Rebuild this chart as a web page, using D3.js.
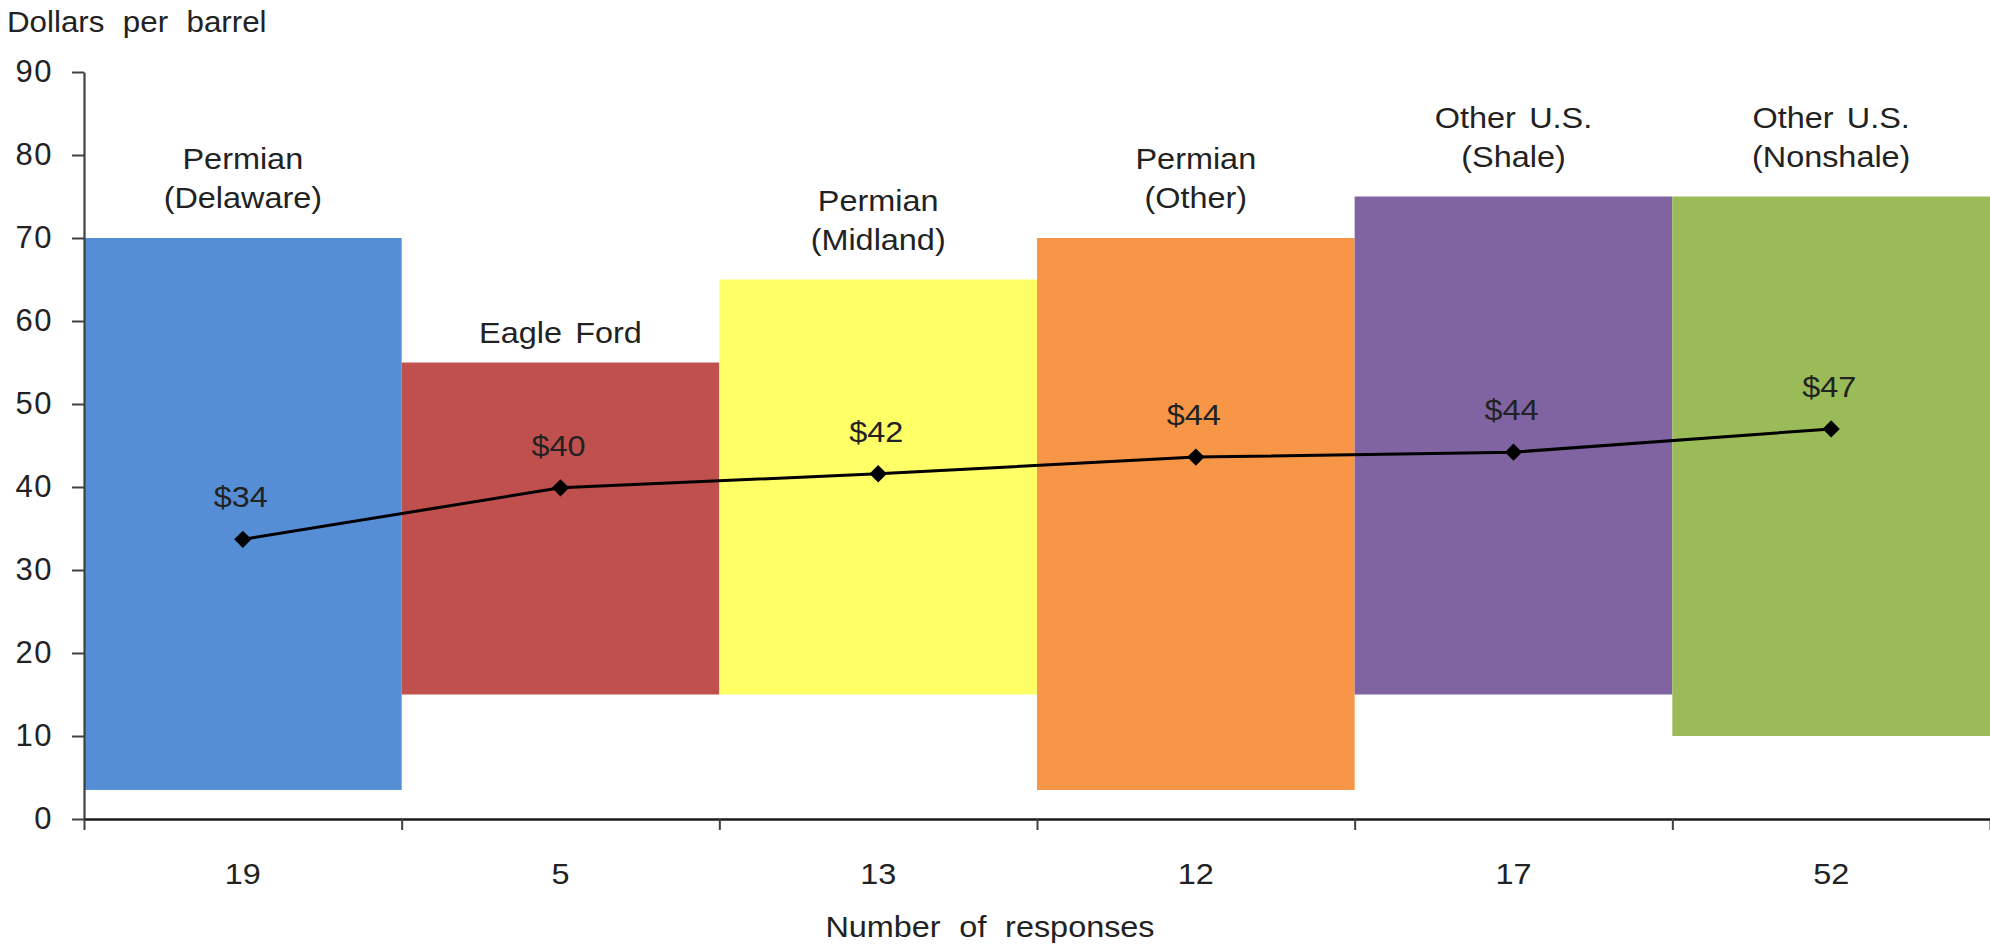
<!DOCTYPE html>
<html>
<head>
<meta charset="utf-8">
<script src="https://cdn.jsdelivr.net/npm/d3@7"></script>
<style>
  html, body { margin: 0; padding: 0; background: #fff; }
  svg { display: block; }
  text { font-family: "Liberation Sans", Arial, sans-serif; fill: #222; }
</style>
</head>
<body>
<svg id="chart" width="1990" height="947"></svg>
<script>
// ---- data ----
const categoryLines = [
  ["Permian", "(Delaware)"],
  ["Eagle Ford"],
  ["Permian", "(Midland)"],
  ["Permian", "(Other)"],
  ["Other U.S.", "(Shale)"],
  ["Other U.S.", "(Nonshale)"]
];
const responses = [19, 5, 13, 12, 17, 52];
const rangeLow  = [3.5, 15, 15, 3.5, 15, 10];
const rangeHigh = [70, 55, 65, 70, 75, 75];
const averages  = [33.7, 39.9, 41.6, 43.6, 44.2, 47.0];
const averageLabels = ["$34", "$40", "$42", "$44", "$44", "$47"];
const barColors = ["#558ED5", "#C0504D", "#FFFF66", "#F79646", "#8064A2", "#9BBB59"];
const yTicks = [0, 10, 20, 30, 40, 50, 60, 70, 80, 90];
const yTitle = "Dollars per barrel";
const xTitle = "Number of responses";

// ---- layout ----
const plotLeft = 84, plotRight = 1990, plotTop = 72, plotBottom = 819;
const SX = 1.08;
const svg = d3.select("#chart");

const idx = d3.range(categoryLines.length);
const x = d3.scaleBand().domain(idx).range([plotLeft, plotRight]).padding(0);
const y = d3.scaleLinear().domain([0, 90]).range([plotBottom, plotTop]);

function stretchedText(g, tx, ty, str, size, anchor) {
  return g.append("text")
    .attr("transform", `translate(${tx},${ty}) scale(${SX},1)`)
    .attr("text-anchor", anchor || "middle")
    .style("font-size", size + "px")
    .text(str);
}

// bars (floating range bars)
svg.append("g").selectAll("rect").data(idx).join("rect")
  .attr("x", i => x(i))
  .attr("width", x.bandwidth())
  .attr("y", i => y(rangeHigh[i]))
  .attr("height", i => y(rangeLow[i]) - y(rangeHigh[i]))
  .attr("fill", i => barColors[i]);

// category labels above bars
const catG = svg.append("g");
idx.forEach(i => {
  const lines = categoryLines[i];
  const cx = x(i) + x.bandwidth() / 2;
  const lastBase = y(rangeHigh[i]) - (lines.length > 1 ? 30 : 20);
  lines.forEach((ln, k) => {
    const by = lastBase - (lines.length - 1 - k) * 39;
    stretchedText(catG, cx, by, ln, 30, "middle").style("word-spacing", "4px");
  });
});

// y axis
const yAxis = d3.axisLeft(y).tickValues(yTicks).tickSize(12).tickSizeOuter(0).tickPadding(19);
const yg = svg.append("g").attr("transform", `translate(${plotLeft},0)`).call(yAxis);
yg.select(".domain").attr("stroke", "#404040").attr("stroke-width", 2.2);
yg.selectAll(".tick line").attr("stroke", "#404040").attr("stroke-width", 2);
yg.selectAll(".tick text")
  .style("font-size", "31px")
  .style("letter-spacing", "1.5px")
  .attr("fill", "#222")
  .attr("font-family", null);

// x axis: line + boundary ticks
const xb = d3.scaleLinear().domain([0, categoryLines.length]).range([plotLeft, plotRight]);
const xAxis = d3.axisBottom(xb).tickValues(d3.range(categoryLines.length + 1)).tickSize(11).tickSizeOuter(0).tickFormat("");
const xg = svg.append("g").attr("transform", `translate(0,${plotBottom})`).call(xAxis);
xg.select(".domain").attr("stroke", "#1a1a1a").attr("stroke-width", 2.4);
xg.selectAll(".tick line").attr("stroke", "#404040").attr("stroke-width", 2);

// x category value labels (number of responses)
const xl = svg.append("g");
idx.forEach(i => {
  stretchedText(xl, x(i) + x.bandwidth() / 2, 884, String(responses[i]), 30, "middle");
});

// average line
const line = d3.line().x(i => x(i) + x.bandwidth() / 2).y(i => y(averages[i]));
svg.append("path").datum(idx)
  .attr("d", line)
  .attr("fill", "none")
  .attr("stroke", "#000")
  .attr("stroke-width", 3);

svg.append("g").selectAll("path").data(idx).join("path")
  .attr("d", d3.symbol(d3.symbolSquare, 150)())
  .attr("transform", i => `translate(${x(i) + x.bandwidth() / 2},${y(averages[i])}) rotate(45)`)
  .attr("fill", "#000");

// average labels
const al = svg.append("g");
idx.forEach(i => {
  stretchedText(al, x(i) + x.bandwidth() / 2 - 2, y(averages[i]) - 32, averageLabels[i], 30, "middle");
});

// titles
stretchedText(svg, 7, 32, yTitle, 29, "start").style("word-spacing", "9px");
stretchedText(svg, 990, 937, xTitle, 30, "middle").style("word-spacing", "9px");
</script>
</body>
</html>
